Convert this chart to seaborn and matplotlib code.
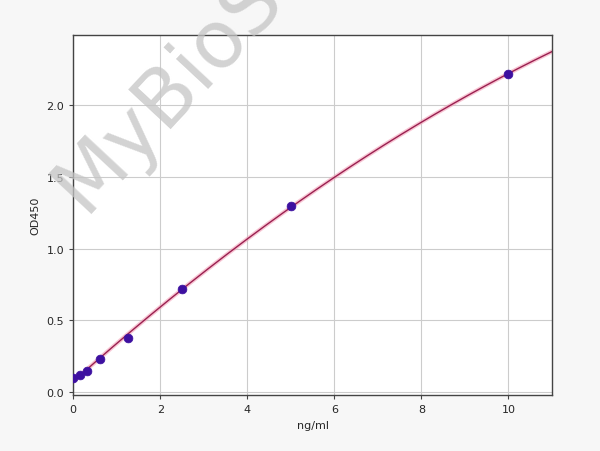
import numpy as np
import matplotlib
matplotlib.use("Agg")
import matplotlib.pyplot as plt
import seaborn as sns

# standard curve points
conc = [0, 0.156, 0.3125, 0.625, 1.25, 2.5, 5, 10]
od450 = [0.10, 0.12, 0.15, 0.23, 0.38, 0.72, 1.30, 2.22]

sns.set_style("whitegrid")
plt.rcParams["font.family"] = ["DejaVu Sans"]

fig = plt.figure(figsize=(6, 4.52), dpi=100)
fig.patch.set_facecolor("#f7f7f7")
ax = fig.add_axes([0.122, 0.124, 0.798, 0.796])

# fitted curve through the points
coef = np.polyfit(conc, od450, 2)
xs = np.linspace(0, 11, 200)
sns.lineplot(x=xs, y=np.polyval(coef, xs), ax=ax, color="#f4a0b8", lw=3.0, alpha=0.6)
sns.lineplot(x=xs, y=np.polyval(coef, xs), ax=ax, color="#9a2050", lw=1.0)
sns.scatterplot(x=conc, y=od450, ax=ax, color="#3d10a0", s=40, edgecolor="#3d10a0", zorder=5)

ax.set_xlim(0, 11)
ax.set_ylim(-0.02, 2.49)
ax.set_xticks([0, 2, 4, 6, 8, 10])
ax.set_yticks([0.0, 0.5, 1.0, 1.5, 2.0])
ax.set_xlabel("ng/ml", fontsize=8)
ax.set_ylabel("OD450", fontsize=8)
ax.tick_params(labelsize=8, length=3, left=True, bottom=True, color="#444444")
ax.grid(color="#cccccc", lw=0.8)
for s in ax.spines.values():
    s.set_color("#444444")
    s.set_linewidth(1.0)

# watermark
fig.text(0.065, 0.50, "MyBioS", fontsize=58, color="#c4c4c4", alpha=0.75,
         rotation=47, ha="left", va="bottom", zorder=10)

fig.savefig("out.png", dpi=100, facecolor=fig.get_facecolor())
